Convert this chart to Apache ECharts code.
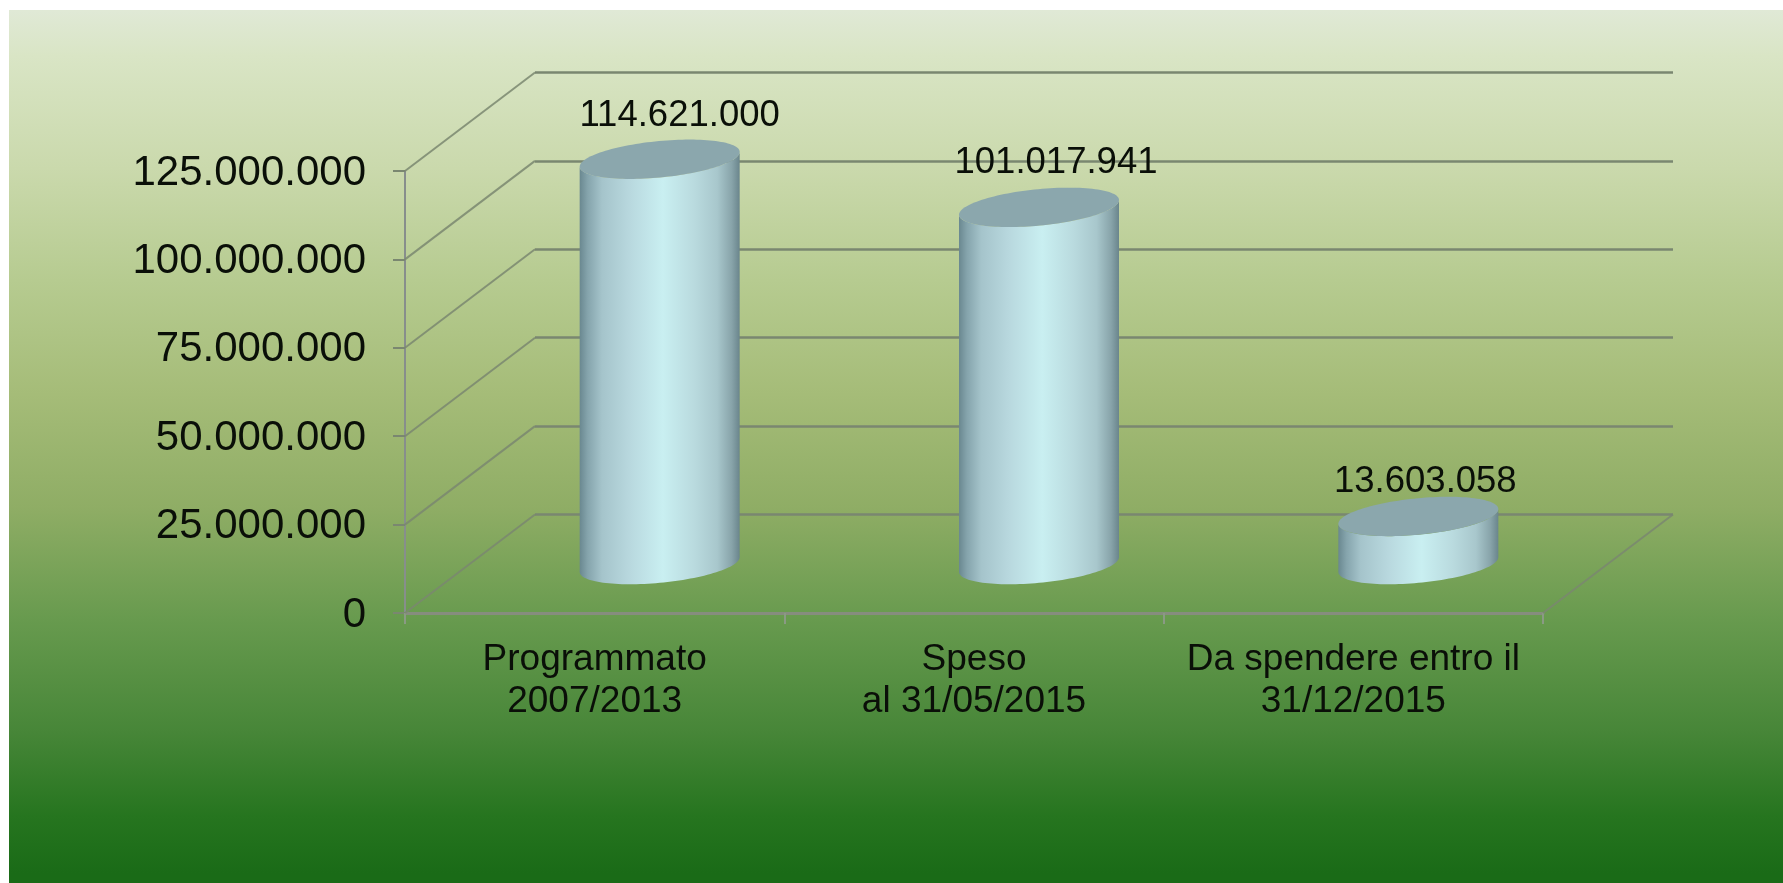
<!DOCTYPE html>
<html>
<head>
<meta charset="utf-8">
<style>html,body{margin:0;padding:0;background:#fff}#c{width:1783px;height:883px}</style>
<script src="https://cdn.jsdelivr.net/npm/echarts@6/dist/echarts.min.js"></script>
</head>
<body>
<div id="c"></div>
<script>
const categories = ['Programmato\n2007/2013', 'Speso\nal 31/05/2015', 'Da spendere entro il\n31/12/2015'];
const values = [114621000, 101017941, 13603058];
const yTicks = [0, 25000000, 50000000, 75000000, 100000000, 125000000];

// perspective and styling (pixels)
const DEPTH = [130, -98.5];
const BAR_SKEW = 30, BAR_RISE = 19.7, BAR_HALF_WIDTH = 80, BAR_DROP = 0.8;
const LABEL_SHIFT = [[20, -43.5], [17, -44], [7, -35]];
const LINE = '#7a8770';

const fmt = v => String(v).replace(/\B(?=(\d{3})+$)/g, '.');
const FONT = '"Liberation Sans", Arial, sans-serif';

function ellipse(cx, cy, from, to, n) {
  const a = Math.sqrt(BAR_HALF_WIDTH * BAR_HALF_WIDTH - BAR_SKEW * BAR_SKEW);
  const pts = [];
  for (let i = 0; i <= n; i++) {
    const t = from + (to - from) * i / n;
    pts.push([cx + a * Math.cos(t) + BAR_SKEW * Math.sin(t), cy - BAR_RISE * Math.sin(t)]);
  }
  return pts;
}

function renderCylinder(params, api) {
  const i = api.value(0), v = api.value(1);
  const top = api.coord([i, v]), base = api.coord([i, 0]);
  const cx = top[0] + DEPTH[0] / 2;
  const ty = top[1] + DEPTH[1] / 2 + BAR_DROP, by = base[1] + DEPTH[1] / 2 + BAR_DROP;
  const a = Math.sqrt(BAR_HALF_WIDTH * BAR_HALF_WIDTH - BAR_SKEW * BAR_SKEW);
  const t0 = Math.atan2(BAR_SKEW, a);     // right silhouette point
  const topFront = ellipse(cx, ty, t0, t0 - Math.PI, 64);
  const baseFront = ellipse(cx, by, t0 - Math.PI, t0, 64);
  const body = topFront.concat(baseFront);
  return {
    type: 'group',
    children: [
      {
        type: 'polygon',
        shape: { points: body },
        style: {
          fill: new echarts.graphic.LinearGradient(0, 0, 1, 0, [
            { offset: 0, color: '#6a8890' },
            { offset: 0.05, color: '#85a4ac' },
            { offset: 0.14, color: '#a5c4cb' },
            { offset: 0.32, color: '#b9d9df' },
            { offset: 0.52, color: '#c9eff1' },
            { offset: 0.72, color: '#b9dade' },
            { offset: 0.86, color: '#a8c7cc' },
            { offset: 0.95, color: '#88a4aa' },
            { offset: 1, color: '#6a858c' }
          ])
        }
      },
      {
        type: 'polygon',
        shape: { points: ellipse(cx, ty, 0, Math.PI * 2, 128) },
        style: { fill: '#8ba7ad' }
      },
      {
        type: 'text',
        style: {
          text: fmt(v),
          x: cx + LABEL_SHIFT[i][0],
          y: ty + LABEL_SHIFT[i][1],
          align: 'center',
          verticalAlign: 'middle',
          font: '36.5px ' + FONT,
          fill: '#0a0f08'
        }
      }
    ]
  };
}

function renderDiagonal(params, api) {
  const i = api.value(0), v = api.value(1), side = api.value(2);
  const p = api.coord([i, v]);
  const x = p[0] + side * api.size([1, 0])[0] / 2;
  return {
    type: 'line',
    shape: { x1: x, y1: p[1], x2: x + DEPTH[0], y2: p[1] + DEPTH[1] },
    style: { stroke: LINE, lineWidth: 2, opacity: 0.85 }
  };
}

const diagonals = yTicks.map(v => [0, v, -1]).concat([[2, 0, 1]]);

const chart = echarts.init(document.getElementById('c'), null, { renderer: 'canvas' });
chart.setOption({
  animation: false,
  backgroundColor: '#ffffff',
  graphic: [{
    type: 'rect', z: -10, silent: true,
    shape: { x: 9, y: 10, width: 1774, height: 873 },
    style: {
      fill: new echarts.graphic.LinearGradient(0, 0, 0, 1, [
        { offset: 0, color: '#e0e9d6' },
        { offset: 0.053, color: '#d9e5c5' },
        { offset: 0.182, color: '#cad9ac' },
        { offset: 0.31, color: '#b6cb90' },
        { offset: 0.44, color: '#a5bc78' },
        { offset: 0.57, color: '#8fad65' },
        { offset: 0.70, color: '#679a4e' },
        { offset: 0.827, color: '#478638' },
        { offset: 0.923, color: '#26751f' },
        { offset: 0.989, color: '#1a6b17' },
        { offset: 1, color: '#1a6b17' }
      ])
    }
  }],
  grid: [
    { left: 405, right: 240, top: 171, bottom: 270 },
    { left: 535, right: 110, top: 72.5, bottom: 368.5 }
  ],
  xAxis: [
    {
      type: 'category', gridIndex: 0, data: categories,
      axisLine: { show: true, lineStyle: { color: '#868d7e', width: 3 } },
      axisTick: { show: true, alignWithLabel: false, length: 11, lineStyle: { color: '#8a9a84', width: 2 } },
      axisLabel: { show: true, interval: 0, margin: 26, fontSize: 37, lineHeight: 42, color: '#0a0f08', fontFamily: FONT }
    },
    {
      type: 'category', gridIndex: 1, data: categories,
      axisLine: { show: false }, axisTick: { show: false }, axisLabel: { show: false }
    }
  ],
  yAxis: [
    {
      type: 'value', gridIndex: 0, min: 0, max: 125000000, interval: 25000000,
      axisLine: { show: true, lineStyle: { color: '#878e8c', width: 2 } },
      axisTick: { show: true, length: 12, lineStyle: { color: LINE, width: 2 } },
      axisLabel: { show: true, margin: 39, fontSize: 42, lineHeight: 42, verticalAlign: 'top', padding: [-19, 0, 0, 0], color: '#0a0f08', fontFamily: FONT, formatter: v => fmt(v) },
      splitLine: { show: false }
    },
    {
      type: 'value', gridIndex: 1, min: 0, max: 125000000, interval: 25000000,
      axisLine: { show: false }, axisTick: { show: false }, axisLabel: { show: false },
      splitLine: { show: true, lineStyle: { color: LINE, width: 2.5 } }
    }
  ],
  series: [
    {
      type: 'custom', xAxisIndex: 0, yAxisIndex: 0, silent: true, z: 1,
      data: diagonals, encode: { x: 0, y: 1 }, renderItem: renderDiagonal, clip: false
    },
    {
      type: 'custom', xAxisIndex: 0, yAxisIndex: 0, silent: true, z: 5,
      data: values.map((v, i) => [i, v]), encode: { x: 0, y: 1 }, renderItem: renderCylinder, clip: false
    }
  ]
});
</script>
</body>
</html>
